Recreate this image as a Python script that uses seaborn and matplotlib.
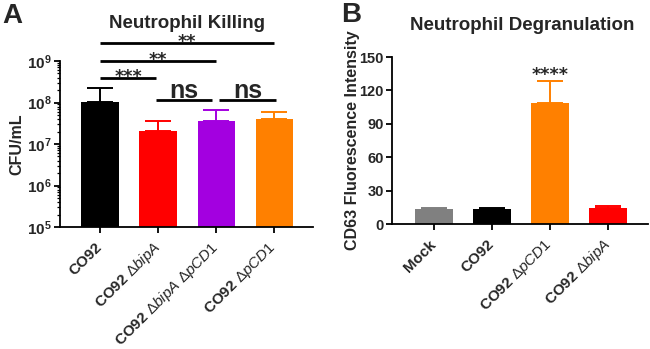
import matplotlib
matplotlib.use("Agg")
import matplotlib.pyplot as plt
import seaborn as sns
import numpy as np
import pandas as pd
from matplotlib.ticker import FixedLocator, LogLocator, NullFormatter, FuncFormatter

sns.set_theme(style="ticks")
plt.rcParams['font.family'] = ['Liberation Sans', 'DejaVu Sans']
plt.rcParams['mathtext.fontset'] = 'custom'
plt.rcParams['mathtext.rm'] = 'Liberation Sans'
plt.rcParams['mathtext.it'] = 'Liberation Sans:italic'
plt.rcParams['mathtext.bf'] = 'Liberation Sans:bold'

# ---------------- data ----------------
killing_strains = ["CO92", "CO92 ΔbipA", "CO92 ΔbipA ΔpCD1", "CO92 ΔpCD1"]
killing_cfu = [1.05e8, 2.06e7, 3.6e7, 4.0e7]
killing_err = [1.2e8, 1.5e7, 3.1e7, 1.8e7]
killing_colors = ["#000000", "#ff0000", "#a300e0", "#ff8000"]

degran_groups = ["Mock", "CO92", "CO92 ΔpCD1", "CO92 ΔbipA"]
degran_mfi = [13.2, 13.2, 108.4, 14.4]
degran_err = [1.2, 1.4, 20.0, 1.4]
degran_colors = ["#808080", "#000000", "#ff8000", "#ff0000"]

killing_y_ticks = [1e5, 1e6, 1e7, 1e8, 1e9]
degran_y_ticks = [0, 30, 60, 90, 120, 150]

# significance brackets for panel A: (x start, x end, y, label)
killing_sig = [(0, 3, 10**9.43, "**"), (0, 2, 10**9.0, "**"), (0, 0.97, 10**8.59, "***"),
               (0.97, 1.93, 10**8.06, "ns"), (2.05, 3.03, 10**8.06, "ns")]
degran_sig = [(2, "****")]


def fmt_label(s):
    parts = []
    for w in s.split(" "):
        if w.startswith("Δ"):
            parts.append(r"$\mathit{" + w + "}$")
        else:
            parts.append(w)
    return " ".join(parts)


fig = plt.figure(figsize=(6.5, 3.49), dpi=100)
axA = fig.add_axes([60 / 650, 1 - 227 / 349, 253 / 650, 166 / 349])
axB = fig.add_axes([392 / 650, 1 - 224 / 349, 256 / 650, 167 / 349])

# ---------------- Panel A ----------------
dfA = pd.DataFrame({"strain": killing_strains, "cfu": killing_cfu})
axA.set_yscale("log")
sns.barplot(data=dfA, x="strain", y="cfu", hue="strain", palette=killing_colors,
            order=killing_strains, hue_order=killing_strains, errorbar=None,
            saturation=1, width=0.64, legend=False, ax=axA, linewidth=0)
for i, (v, e, c) in enumerate(zip(killing_cfu, killing_err, killing_colors)):
    axA.errorbar(i, v, yerr=[[0], [e]], fmt="none", ecolor=c, elinewidth=1.4,
                 capsize=9.5, capthick=1.4, zorder=1)
axA.set_ylim(1e5, 1e9)
axA.set_xlim(-0.69, 3.67)
axA.yaxis.set_major_locator(FixedLocator(killing_y_ticks))
axA.yaxis.set_major_formatter(FuncFormatter(lambda v, p: r"$\mathbf{10^{%d}}$" % round(np.log10(v))))
axA.yaxis.set_minor_locator(LogLocator(base=10, subs=np.arange(2, 10), numticks=20))
axA.yaxis.set_minor_formatter(NullFormatter())
axA.set_ylabel("CFU/mL", fontsize=11.5, fontweight="bold")
axA.yaxis.set_label_coords(-0.14, 0.5)
axA.set_xlabel("")

for x0, x1, y, lab in killing_sig:
    axA.plot([x0, x1], [y, y], color="black", lw=2.0, clip_on=False, solid_capstyle="butt")
    if lab == "ns":
        axA.annotate(lab, xy=((x0 + x1) / 2, y), xytext=(0, 1.5), textcoords="offset points",
                     ha="center", va="baseline", fontsize=18, fontweight="bold",
                     annotation_clip=False)
    else:
        axA.annotate(lab, xy=((x0 + x1) / 2, y), xytext=(0, -3), textcoords="offset points",
                     ha="center", va="baseline", fontsize=12.5, family="DejaVu Sans",
                     fontweight="bold", annotation_clip=False)

# ---------------- Panel B ----------------
dfB = pd.DataFrame({"group": degran_groups, "mfi": degran_mfi})
sns.barplot(data=dfB, x="group", y="mfi", hue="group", palette=degran_colors,
            order=degran_groups, hue_order=degran_groups, errorbar=None,
            saturation=1, width=0.65, legend=False, ax=axB, linewidth=0)
for i, (v, e, c) in enumerate(zip(degran_mfi, degran_err, degran_colors)):
    axB.errorbar(i, v, yerr=[[0], [e]], fmt="none", ecolor=c, elinewidth=1.4,
                 capsize=9.5, capthick=1.4, zorder=1)
axB.set_ylim(0, 150)
axB.set_xlim(-0.72, 3.69)
axB.yaxis.set_major_locator(FixedLocator(degran_y_ticks))
axB.set_ylabel("CD63 Fluorescence Intensity", fontsize=11.5, fontweight="bold")
axB.yaxis.set_label_coords(-0.125, 0.5)
axB.set_xlabel("")
for idx, lab in degran_sig:
    axB.annotate(lab, xy=(idx, degran_mfi[idx] + degran_err[idx]), xytext=(0, 1),
                 textcoords="offset points", ha="center", va="baseline",
                 fontsize=12.5, family="DejaVu Sans", fontweight="bold",
                 annotation_clip=False)

# ---------------- common styling ----------------
for ax, labels, ysize in ((axA, killing_strains, 11), (axB, degran_groups, 10.5)):
    sns.despine(ax=ax)
    for sp in ("left", "bottom"):
        ax.spines[sp].set_linewidth(1.3)
        ax.spines[sp].set_color("black")
    ax.tick_params(axis="both", which="major", direction="out", length=4, width=1.3,
                   color="black", pad=2)
    ax.tick_params(axis="y", labelsize=ysize)
    ax.tick_params(axis="y", which="minor", direction="out", length=2, width=0.9, color="black")
    ax.set_xticks(range(len(labels)))
    ax.set_xticklabels([fmt_label(s) for s in labels], rotation=45, ha="right",
                       va="center", rotation_mode="anchor", fontsize=11, fontweight="bold")
    ax.tick_params(axis="x", pad=9)
    for t in ax.get_yticklabels():
        t.set_fontweight("bold")

fig.text(187 / 650, 1 - 28 / 349, "Neutrophil Killing", ha="center", va="baseline",
         fontsize=13.5, fontweight="bold")
fig.text(522 / 650, 1 - 30 / 349, "Neutrophil Degranulation", ha="center", va="baseline",
         fontsize=13.5, fontweight="bold")
fig.text(2 / 650, 1 - 23 / 349, "A", ha="left", va="baseline", fontsize=20, fontweight="bold")
fig.text(341 / 650, 1 - 22 / 349, "B", ha="left", va="baseline", fontsize=20, fontweight="bold")

fig.savefig("out.png", dpi=100)
